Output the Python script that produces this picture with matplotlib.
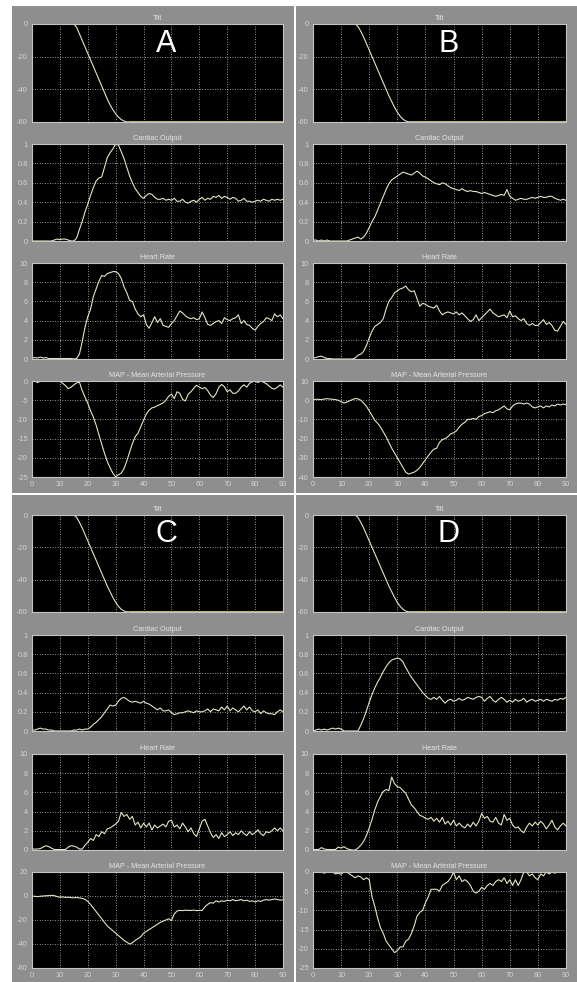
import matplotlib.pyplot as plt
import numpy as np
from matplotlib.patches import Rectangle

plt.rcParams['font.family'] = ['Liberation Sans', 'DejaVu Sans']

# time axis of the scope traces (seconds)
t = np.arange(0, 91)

# tilt profile knots (deg)
tilt_t = [0, 15, 16, 17, 18, 19, 20, 21, 22, 23, 24, 25, 26, 27, 28, 29, 30, 31, 32, 33, 34, 35, 90]
tilt_a = [0, 0, -2, -6, -10, -14, -18, -22, -26, -30, -34, -38, -42, -46, -49.5, -52.5, -55, -57, -58.5,
          -59.4, -59.9, -60, -60]
tilt_b = [0, 0, -1.5, -4.5, -8, -12, -16, -20, -24, -28, -32, -36, -40, -44, -47.5, -51, -54, -56.5, -58.3,
          -59.4, -59.9, -60, -60]

a_co = [0.0, 0.0, 0.0, 0.0, 0.0, 0.0, 0.0, 0.0, 0.01, 0.02,
        0.015, 0.02, 0.02, 0.01, 0.0, 0.0, 0.03, 0.12, 0.2, 0.3,
        0.38, 0.47, 0.55, 0.62, 0.65, 0.66, 0.76, 0.86, 0.91, 0.95,
        1.0, 0.99, 0.92, 0.85, 0.76, 0.67, 0.6, 0.54, 0.5, 0.46,
        0.44, 0.47, 0.49, 0.48, 0.45, 0.43, 0.43, 0.44, 0.42, 0.43,
        0.42, 0.44, 0.41, 0.41, 0.43, 0.40, 0.39, 0.41, 0.42, 0.40,
        0.43, 0.45, 0.42, 0.44, 0.43, 0.46, 0.45, 0.47, 0.44, 0.46,
        0.45, 0.43, 0.45, 0.44, 0.41, 0.42, 0.44, 0.41, 0.41, 0.40,
        0.41, 0.42, 0.41, 0.43, 0.42, 0.41, 0.43, 0.42, 0.43, 0.42,
        0.43]
a_hr = [0.1, 0.15, 0.1, 0.2, 0.1, 0.15, 0.05, 0.05, 0.05, 0.05,
        0.05, 0.05, 0.05, 0.05, 0.05, 0.0, 0.05, 0.5, 1.8, 3.3,
        4.4, 5.2, 6.5, 7.3, 8.1, 8.7, 8.6, 8.9, 9.0, 9.1,
        9.1, 8.9, 8.4, 7.5, 6.9, 6.1, 6.0, 5.2, 4.7, 4.4,
        4.6, 3.6, 3.2, 3.8, 4.4, 3.8, 4.2, 3.5, 3.4, 3.3,
        3.7, 4.0, 4.5, 5.0, 4.8, 4.5, 4.3, 4.2, 4.3, 4.1,
        4.2, 4.9, 4.3, 3.6, 3.5, 3.7, 3.9, 4.0, 3.7, 4.3,
        4.1, 4.0, 4.2, 4.3, 4.6, 3.7, 4.0, 3.6, 3.5, 3.2,
        3.0, 3.4, 3.7, 3.9, 4.3, 4.2, 4.0, 4.7, 4.4, 4.6,
        4.2]
a_map = [0, 0, -0.4, 0, 0, 0, 0, 0, 0, 0,
         0, -0.6, -1.2, -2.0, -1.6, -1.0, -0.5, -0.3, -2.5, -4.2,
         -5.8, -7.8, -9.4, -11.5, -14.0, -16.5, -18.8, -21.0, -22.6, -24.0,
         -25.0, -24.4, -24.0, -22.8, -20.8, -18.5, -16.3, -14.5, -13.6, -11.9,
         -10.2, -8.6, -7.6, -7.0, -6.8, -6.4, -6.1, -5.7, -5.0, -4.0,
         -3.4, -4.6, -2.8, -3.2, -4.8, -5.2, -3.4, -2.8, -1.9, -1.1,
         -1.6, -2.0, -1.7, -2.5, -3.7, -4.3, -3.3, -1.6, -0.9, -1.5,
         -2.8, -2.3, -3.2, -3.2, -2.6, -1.6, -1.0, -1.6, -0.6, -0.2,
         0.0, -0.4, 0.0, -0.3, -0.7, -1.3, -1.9, -2.1, -1.6, -1.0,
         -1.6]

b_co = [0.01, 0.01, 0.0, 0.01, 0.0, 0.01, 0.0, 0.0, 0.0, 0.0,
        0.0, 0.0, 0.0, 0.01, 0.02, 0.03, 0.04, 0.02, 0.04, 0.08,
        0.14, 0.2, 0.25, 0.32, 0.39, 0.46, 0.53, 0.59, 0.63, 0.65,
        0.67, 0.69, 0.71, 0.70, 0.69, 0.68, 0.70, 0.72, 0.70, 0.67,
        0.66, 0.64, 0.62, 0.60, 0.59, 0.58, 0.60, 0.59, 0.57, 0.55,
        0.54, 0.53, 0.52, 0.54, 0.52, 0.51, 0.52, 0.51, 0.51, 0.50,
        0.49, 0.50, 0.49, 0.48, 0.47, 0.46, 0.47, 0.48, 0.47, 0.53,
        0.46, 0.44, 0.42, 0.43, 0.44, 0.43, 0.43, 0.44, 0.45, 0.44,
        0.45, 0.46, 0.45, 0.45, 0.46, 0.46, 0.44, 0.43, 0.42, 0.43,
        0.42]
b_hr = [0.1, 0.15, 0.25, 0.3, 0.15, 0.05, 0.05, 0.0, 0.0, 0.0,
        0.0, 0.0, 0.0, 0.0, 0.0, 0.1, 0.4, 0.5, 0.8, 1.4,
        2.2, 2.9, 3.4, 3.6, 3.8, 4.2, 5.2, 6.0, 6.4, 6.9,
        7.1, 7.3, 7.4, 7.6, 7.2, 7.0, 7.1, 6.3, 5.5, 5.8,
        5.7, 5.5, 5.4, 5.3, 5.6, 5.0, 4.6, 4.8, 4.9, 4.8,
        4.7, 4.9, 4.6, 4.8, 4.5, 4.2, 3.9, 4.1, 4.6, 4.0,
        4.3, 4.6, 4.9, 5.2, 4.8, 4.6, 4.4, 4.5, 4.6, 4.3,
        5.0, 4.4, 4.5, 4.2, 4.0, 4.2, 3.7, 3.5, 3.7, 3.5,
        3.5, 3.8, 4.1, 3.6, 3.8, 3.5, 3.0, 2.9, 3.4, 3.9,
        3.6]
b_map = [0.2, 0.5, 0.4, 0.3, 0.6, 0.8, 0.6, 0.5, 0.3, 0.0,
         -0.8, -1.5, -1.0, -0.3, 0.3, 0.9, 0.7, 0.0, -1.5, -3.2,
         -5.5, -8.0, -10.5, -12.0, -14.0, -16.5, -19.0, -22.0, -25.0, -27.5,
         -30.0, -32.5, -35.0, -37.5, -38.5, -38.0, -37.5, -36.5, -35.0, -33.0,
         -31.0, -29.0, -27.0, -25.5, -25.0, -22.0, -20.5, -20.0, -19.0, -17.5,
         -17.0, -16.0, -14.0, -12.5, -11.5, -10.0, -10.0, -9.5, -10.0, -8.5,
         -8.0, -7.0, -6.5, -6.0, -6.5, -5.5, -5.0, -4.0, -3.0, -4.5,
         -5.0, -3.0, -2.0, -1.5, -1.5, -2.0, -1.5, -2.0, -3.5, -4.0,
         -3.5, -3.0, -4.0, -3.0, -3.5, -2.5, -3.0, -2.0, -2.5, -2.0,
         -2.3]

c_co = [0.01, 0.01, 0.02, 0.03, 0.02, 0.02, 0.01, 0.01, 0.0, 0.0,
        0.0, 0.0, 0.0, 0.0, 0.0, 0.01, 0.01, 0.02, 0.01, 0.02,
        0.02, 0.04, 0.07, 0.09, 0.12, 0.15, 0.19, 0.23, 0.27, 0.26,
        0.27, 0.31, 0.34, 0.35, 0.33, 0.31, 0.30, 0.31, 0.30, 0.29,
        0.31, 0.29, 0.28, 0.26, 0.24, 0.22, 0.24, 0.21, 0.21, 0.22,
        0.19, 0.17, 0.18, 0.19, 0.19, 0.20, 0.21, 0.20, 0.19, 0.21,
        0.20, 0.20, 0.21, 0.23, 0.20, 0.23, 0.22, 0.21, 0.25, 0.22,
        0.26, 0.21, 0.24, 0.22, 0.20, 0.23, 0.26, 0.22, 0.25, 0.21,
        0.20, 0.22, 0.18, 0.21, 0.19, 0.18, 0.18, 0.17, 0.20, 0.22,
        0.20]
c_hr = [0.1, 0.1, 0.1, 0.15, 0.3, 0.45, 0.35, 0.2, 0.05, 0.05,
        0.05, 0.05, 0.05, 0.3, 0.45, 0.4, 0.3, 0.1, 0.1, 0.5,
        0.8, 1.2, 1.0, 1.6, 1.4, 1.9, 1.7, 2.2, 2.3, 2.5,
        2.7, 3.0, 3.9, 3.5, 3.7, 3.2, 3.5, 2.6, 2.9, 2.3,
        2.8, 2.4, 2.8, 2.1, 2.6, 2.3, 2.5, 2.7, 2.4, 3.0,
        3.1, 2.4, 2.6, 2.2, 2.8, 2.4, 1.9, 2.3, 1.7, 1.4,
        2.2, 3.0, 3.2, 2.5, 1.8, 1.3, 1.6, 1.2, 1.8, 1.4,
        1.6, 1.9, 1.5, 1.8, 1.6, 2.0, 1.7, 1.5, 1.9, 1.6,
        1.8, 2.1, 1.7, 1.5, 1.9, 1.8, 2.0, 2.3, 2.0, 2.3,
        2.0]
c_map = [0.0, -0.3, -0.5, -0.2, 0.0, 0.2, 0.3, 0.6, 0.3, -0.5,
         -1.0, -0.8, -1.2, -1.0, -1.3, -1.5, -1.2, -1.6, -2.0, -2.8,
         -4.5, -7.0, -10.0, -13.0, -16.0, -19.0, -22.0, -25.0, -27.0, -29.0,
         -31.0, -33.0, -35.0, -37.0, -38.5, -40.0, -39.0, -37.0, -35.5, -34.0,
         -31.0, -29.5, -28.0, -26.5, -25.0, -23.5, -22.0, -21.0, -20.0, -19.0,
         -20.5, -15.0, -12.5, -12.0, -12.2, -11.8, -12.0, -12.0, -11.8, -12.2,
         -12.0, -12.0, -9.0, -7.0, -5.5, -6.0, -4.0, -5.0, -4.0, -4.5,
         -3.5, -4.0, -3.0, -4.0, -3.5, -3.0, -4.0, -3.5, -4.5, -4.0,
         -5.0, -4.0, -4.5, -3.5, -3.0, -3.5, -3.0, -2.5, -3.0, -3.5,
         -3.2]

d_co = [0.0, 0.01, 0.02, 0.01, 0.02, 0.01, 0.02, 0.03, 0.02, 0.03,
        0.02, 0.0, 0.0, 0.0, 0.0, 0.0, 0.0, 0.06, 0.13, 0.21,
        0.3, 0.38, 0.45, 0.51, 0.56, 0.62, 0.67, 0.71, 0.74, 0.75,
        0.76, 0.75, 0.72, 0.66, 0.61, 0.56, 0.52, 0.48, 0.44, 0.40,
        0.37, 0.34, 0.33, 0.35, 0.33, 0.36, 0.32, 0.29, 0.32, 0.33,
        0.31, 0.32, 0.34, 0.32, 0.33, 0.35, 0.34, 0.33, 0.35, 0.36,
        0.35, 0.31, 0.34, 0.36, 0.32, 0.30, 0.33, 0.35, 0.33, 0.30,
        0.32, 0.30, 0.33, 0.31, 0.32, 0.34, 0.30, 0.32, 0.33, 0.31,
        0.32, 0.33, 0.31, 0.33, 0.32, 0.31, 0.33, 0.32, 0.34, 0.33,
        0.35]
d_hr = [0.05, 0.05, 0.05, 0.25, 0.1, 0.05, 0.05, 0.05, 0.05, 0.3,
        0.2, 0.35, 0.15, 0.05, 0.0, 0.0, 0.2, 0.5, 0.9, 1.5,
        2.3, 3.2, 4.2, 5.0, 5.6, 6.1, 6.3, 6.2, 7.6, 6.9,
        6.6, 6.5, 6.2, 5.9, 5.3, 4.7, 4.4, 4.0, 3.6, 3.5,
        3.3, 3.2, 3.4, 3.0, 3.3, 2.9, 3.4, 2.7, 3.0, 2.6,
        3.1, 2.5, 2.8, 2.5, 2.3, 2.7, 2.4, 2.9, 2.5, 3.0,
        3.8, 3.3, 3.5, 3.0, 2.9, 3.4, 2.8, 2.6, 3.7, 3.1,
        3.3, 2.6, 2.3, 2.4, 2.0, 1.8, 2.4, 2.8, 2.5, 2.9,
        2.6, 3.0, 2.7, 2.2, 2.6, 3.1, 2.4, 2.1, 2.5, 2.8,
        2.5]
d_map = [0, 0, 0, 0, -0.3, 0, 0, 0, -0.5, -0.3,
         -0.6, 0, 0, -0.5, -1.0, -1.5, -1.0, -1.3, -2.0, -1.5,
         -2.0, -6.5, -9.0, -12.0, -14.5, -16.0, -18.0, -19.0, -20.0, -21.0,
         -20.5, -19.5, -19.5, -18.0, -17.5, -16.0, -14.0, -11.5, -10.5, -10.0,
         -8.0, -6.5, -4.5, -4.5, -4.5, -5.0, -3.5, -3.0, -2.5, -1.5,
         0.0, -2.0, -1.0, -2.5, -2.0, -2.5, -3.5, -5.0, -5.5, -5.0,
         -4.0, -4.5, -3.5, -3.0, -3.5, -2.5, -2.0, -2.5, -1.5, -3.0,
         -2.0, -3.5, -2.0, -3.5, -2.0, 0.0, 0.0, -1.0, -0.5, -1.5,
         -2.0, -0.5, -1.0, 0.0, -0.5, 0.0, -0.3, 0.0, 0.0, 0.0,
         0.0]

map_ticks_a = [-25, -20, -15, -10, -5, 0]
map_ticks_b = [-40, -30, -20, -10, 0, 10]
map_ticks_c = [-60, -40, -20, 0, 20]
map_ticks_d = [-25, -20, -15, -10, -5, 0]

W, H = 577, 982
BG = '#8e8e8e'
TRACE = '#e6e4c4'
FLAT = '#c8bc5a'
TXT = '#d4d4d4'


def box(x0, y0, x1, y1):
    return [x0 / W, 1 - y1 / H, (x1 - x0) / W, (y1 - y0) / H]


fig = plt.figure(figsize=(W / 100, H / 100), dpi=100)
fig.patch.set_facecolor(BG)
# white strips / separators
for x0, y0, w, h in [(0, 0, 12, H), (0, 0, W, 6), (294, 0, 2, H), (0, 493, W, 2)]:
    fig.add_artist(Rectangle((x0 / W, 1 - (y0 + h) / H), w / W, h / H, transform=fig.transFigure,
                             facecolor='white', edgecolor='none'))

cols = [(32, 283), (313, 566)]
rows_top = [(24, 122), (144, 241), (263, 359), (381, 477)]
rows_bot = [(515, 612), (635, 731), (754, 850), (872, 968)]

panels = [('A', cols[0], rows_top, tilt_a, a_co, a_hr, a_map, map_ticks_a),
          ('B', cols[1], rows_top, tilt_b, b_co, b_hr, b_map, map_ticks_b),
          ('C', cols[0], rows_bot, tilt_b, c_co, c_hr, c_map, map_ticks_c),
          ('D', cols[1], rows_bot, tilt_b, d_co, d_hr, d_map, map_ticks_d)]

titles = ['Tilt', 'Cardiac Output', 'Heart Rate', 'MAP - Mean Arterial Pressure']

for letter, (x0, x1), rows, tilt, co, hr, mp, mticks in panels:
    series = [(tilt_t, tilt, [-60, -40, -20, 0]),
              (t, co, [0, 0.2, 0.4, 0.6, 0.8, 1]),
              (t, hr, [0, 2, 4, 6, 8, 10]),
              (t, mp, mticks)]
    for k, ((y0, y1), (xs, ys, yt)) in enumerate(zip(rows, series)):
        ax = fig.add_axes(box(x0, y0, x1, y1))
        ax.set_facecolor('black')
        ax.plot(xs, ys, color=TRACE, lw=0.8)
        if k == 0:
            # flat parts of the tilt trace lie on the frame and show yellow
            ax.plot(xs[:2], ys[:2], color=FLAT, lw=1.2)
            ax.plot(xs[-2:], ys[-2:], color=FLAT, lw=1.2)
        ax.set_xlim(0, 90)
        ax.set_ylim(yt[0], yt[-1])
        ax.set_xticks(range(0, 91, 10))
        ax.set_yticks(yt)
        ax.set_yticklabels([f'{v:g}' for v in yt])
        ax.grid(True, color='#c8c8c8', linestyle=(0, (1, 2)), lw=0.6)
        ax.tick_params(length=0, labelsize=5.3, colors=TXT, pad=3)
        if k < 3:
            ax.set_xticklabels([])
        for s in ax.spines.values():
            s.set_color('#c4c4c4')
            s.set_linewidth(0.8)
        ax.set_title(titles[k], fontsize=5.2, color='#e4e4e4', pad=3)
        if k == 0:
            ax.text(0.535, 0.8, letter, transform=ax.transAxes, fontsize=22, color='white',
                    ha='center', va='center')

plt.savefig('out.png', dpi=100, facecolor=fig.get_facecolor())
